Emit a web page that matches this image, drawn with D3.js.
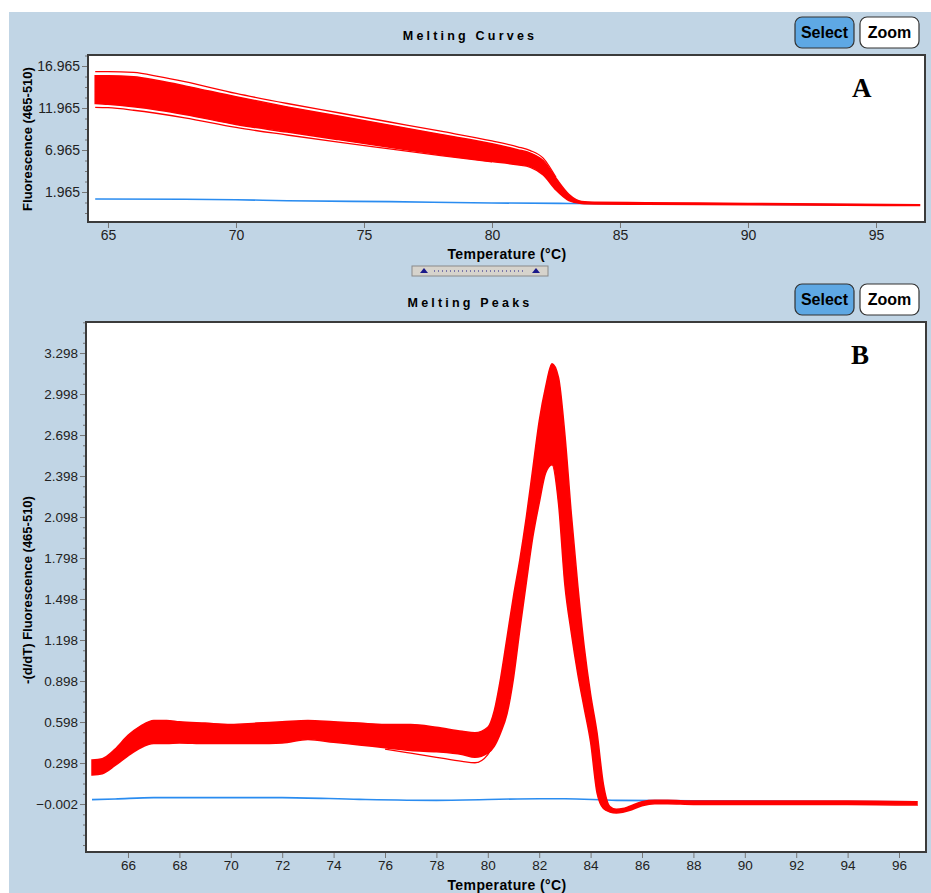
<!DOCTYPE html>
<html>
<head>
<meta charset="utf-8">
<script src="https://cdn.jsdelivr.net/npm/d3@7"></script>
<style>
  body { margin: 0; background: #fff; }
  svg { display: block; font-family: "Liberation Sans", Arial, sans-serif; }
</style>
</head>
<body>
<svg id="chart" width="931" height="893"></svg>
<script>
// Melting Curves (A)
// ------------------
var tempA  = [64.5, 65, 66, 67, 68, 70, 72, 74, 76, 78, 80, 81, 81.5, 82, 82.5, 83, 83.5, 84, 86, 90, 96.7];
var upperA = [15.8, 15.8, 15.7, 15.2, 14.6, 13.3, 12.1, 11.0, 9.9, 8.8, 7.7, 7.0, 6.6, 5.7, 3.6, 1.7, 0.85, 0.75, 0.7, 0.6, 0.45];
var lowerA = [12.5, 12.4, 12.1, 11.7, 11.2, 10.0, 9.1, 8.2, 7.3, 6.4, 5.6, 5.2, 4.9, 4.0, 2.2, 0.95, 0.6, 0.55, 0.5, 0.45, 0.35];
// outlying single curves, just outside the band
var outerTopTempA = [64.5, 65, 66, 67, 68, 70, 72, 74, 76, 78, 80, 81, 81.5, 82, 82.5];
var outerTopA     = [16.3, 16.3, 16.2, 15.7, 15.1, 13.7, 12.5, 11.4, 10.3, 9.2, 8.05, 7.35, 6.9, 6.0, 3.7];
var outerLowTempA = [64.5, 65, 66, 68, 70, 72, 74, 76, 78, 80];
var outerLowA     = [12.05, 12.0, 11.7, 10.8, 9.65, 8.75, 7.9, 7.1, 6.3, 5.55];
var blankTempA = [64.5, 68, 70, 72, 76, 80, 83, 90, 96.7];
var blankA     = [1.13, 1.1, 1.05, 0.92, 0.82, 0.66, 0.6, 0.5, 0.4];
var yTicksA = [1.965, 6.965, 11.965, 16.965];
var xTicksA = [65, 70, 75, 80, 85, 90, 95];

// Melting Peaks (B)
// -----------------
var tempB  = [64.6, 65, 65.5, 66, 66.5, 67, 67.5, 68, 69, 70, 71, 72, 73, 74, 75, 76, 77, 78, 79, 79.5,
              80, 80.25, 80.5, 80.75, 81, 81.25, 81.5, 81.75, 82, 82.25, 82.5, 82.75, 83, 83.25, 83.5, 83.75,
              84, 84.25, 84.5, 84.75, 85, 85.25, 85.5, 86, 86.5, 87, 88, 90, 92, 94, 96.7];
var upperB = [0.32, 0.33, 0.40, 0.50, 0.57, 0.61, 0.61, 0.60, 0.59, 0.58, 0.59, 0.60, 0.61, 0.60, 0.59, 0.58, 0.58, 0.56, 0.53, 0.52,
              0.56, 0.68, 0.92, 1.22, 1.52, 1.79, 2.1, 2.45, 2.8, 3.05, 3.22, 3.12, 2.7, 2.12, 1.6, 1.15,
              0.8, 0.52, 0.14, -0.02, -0.04, -0.035, -0.02, 0.015, 0.025, 0.025, 0.02, 0.02, 0.02, 0.02, 0.015];
var lowerB = [0.21, 0.22, 0.28, 0.35, 0.41, 0.44, 0.44, 0.445, 0.44, 0.44, 0.44, 0.445, 0.47, 0.45, 0.43, 0.41, 0.39, 0.38, 0.36, 0.34,
              0.37, 0.42, 0.52, 0.66, 0.92, 1.28, 1.62, 1.95, 2.2, 2.42, 2.48, 2.2, 1.6, 1.25, 0.95, 0.7,
              0.45, 0.08, -0.035, -0.06, -0.068, -0.062, -0.05, -0.015, 0.0, 0.0, -0.005, -0.005, -0.005, -0.005, -0.01];
var outerLowTempB = [76, 77, 78, 79, 79.5, 80, 80.5];
var outerLowB     = [0.40, 0.37, 0.34, 0.31, 0.30, 0.36, 0.55];
var blankTempB = [64.6, 65.5, 67, 70, 72, 75, 78, 82, 83, 85, 88, 96.7];
var blankB     = [0.03, 0.035, 0.045, 0.045, 0.045, 0.032, 0.025, 0.037, 0.037, 0.025, 0.022, 0.015];
var yTicksB = [-0.002, 0.298, 0.598, 0.898, 1.198, 1.498, 1.798, 2.098, 2.398, 2.698, 2.998, 3.298];
var xTicksB = [66, 68, 70, 72, 74, 76, 78, 80, 82, 84, 86, 88, 90, 92, 94, 96];

var RED = "#ff0000", BLUE = "#2a8cf0", PANEL = "#c1d5e5";

var svg = d3.select("#chart");
svg.append("rect").attr("x", 9).attr("y", 12).attr("width", 922).attr("height", 881).attr("fill", PANEL);

function zip(ts, vs) { return ts.map((t, i) => [t, vs[i]]); }

function panel(o) {
  var x = d3.scaleLinear().domain(o.xDomain).range([o.left, o.right]);
  var y = d3.scaleLinear().domain(o.yDomain).range([o.bottom, o.top]);
  var g = svg.append("g");

  g.append("rect")
    .attr("x", o.left).attr("y", o.top)
    .attr("width", o.right - o.left).attr("height", o.bottom - o.top)
    .attr("fill", "#fff");

  g.append("clipPath").attr("id", o.id + "-clip")
    .append("rect")
    .attr("x", o.left).attr("y", o.top)
    .attr("width", o.right - o.left).attr("height", o.bottom - o.top);

  var plot = g.append("g").attr("clip-path", "url(#" + o.id + "-clip)");
  var line = d3.line().x(d => x(d[0])).y(d => y(d[1])).curve(d3.curveMonotoneX);
  var area = d3.area().x(d => x(d.t)).y0(d => y(d.lo)).y1(d => y(d.hi)).curve(d3.curveMonotoneX);

  // negative control
  plot.append("path").datum(zip(o.blankT, o.blank))
    .attr("d", line).attr("fill", "none").attr("stroke", BLUE).attr("stroke-width", 1.6);

  // sample band
  plot.append("path")
    .datum(o.bandT.map((t, i) => ({t: t, hi: o.upper[i], lo: o.lower[i]})))
    .attr("d", area).attr("fill", RED).attr("stroke", RED).attr("stroke-width", 1.5);

  o.outliers.forEach(c => {
    plot.append("path").datum(zip(c[0], c[1]))
      .attr("d", line).attr("fill", "none").attr("stroke", RED).attr("stroke-width", 1.3);
  });

  // y axis
  g.append("g").attr("transform", "translate(" + o.left + ",0)")
    .call(d3.axisLeft(y).tickValues(o.yTicks).tickSize(6).tickPadding(2).tickFormat(d3.format(".3f")));
  var step = o.yTicks[1] - o.yTicks[0], minor = [];
  for (var v = o.yTicks[0] - step; v < o.yDomain[1]; v += step / 4)
    if (v > o.yDomain[0] && !o.yTicks.some(t => Math.abs(t - v) < 1e-6)) minor.push(v);
  g.append("g").attr("transform", "translate(" + o.left + ",0)")
    .call(d3.axisLeft(y).tickValues(minor).tickSize(3).tickFormat(""));

  g.append("g").attr("transform", "translate(0," + o.bottom + ")")
    .call(d3.axisBottom(x).tickValues(o.xTicks).tickSize(6).tickPadding(2).tickFormat(d3.format("d")));

  g.selectAll(".domain").remove();
  g.selectAll(".tick line").attr("stroke", "#777");
  g.selectAll(".tick text").attr("fill", "#222").attr("font-size", o.tickSize)
    .attr("font-family", "'Liberation Sans', Arial, sans-serif");

  g.append("rect")
    .attr("x", o.left).attr("y", o.top)
    .attr("width", o.right - o.left).attr("height", o.bottom - o.top)
    .attr("fill", "none").attr("stroke", "#3b3b3b").attr("stroke-width", 2);

  // titles and labels
  g.append("text").attr("x", 470).attr("y", o.top - 15).attr("text-anchor", "middle")
    .attr("font-size", 12.5).attr("font-weight", "bold").attr("letter-spacing", 3.2)
    .text(o.title);
  g.append("text").attr("x", 507).attr("y", o.xLabelY).attr("text-anchor", "middle")
    .attr("font-size", 14).attr("font-weight", "bold").attr("letter-spacing", 0.4)
    .text("Temperature (°C)");
  g.append("text")
    .attr("transform", "translate(32," + o.yLabelMid + ") rotate(-90)")
    .attr("text-anchor", "middle").attr("font-size", 13).attr("font-weight", "bold")
    .text(o.yLabel);
  g.append("text").attr("x", o.letterX).attr("y", o.letterY)
    .attr("font-family", "'Liberation Serif', 'Times New Roman', serif")
    .attr("font-size", 27).attr("font-weight", "bold").text(o.letter);

  // Select / Zoom buttons
  var by = o.top - 38;
  g.append("rect").attr("x", 795).attr("y", by).attr("width", 59).attr("height", 31).attr("rx", 7)
    .attr("fill", "#5ea8e4").attr("stroke", "#333").attr("stroke-width", 1.2);
  g.append("text").attr("x", 824.5).attr("y", by + 21).attr("text-anchor", "middle")
    .attr("font-size", 16).attr("font-weight", "bold").text("Select");
  g.append("rect").attr("x", 860).attr("y", by).attr("width", 59).attr("height", 31).attr("rx", 7)
    .attr("fill", "#fff").attr("stroke", "#333").attr("stroke-width", 1.2);
  g.append("text").attr("x", 889.5).attr("y", by + 21).attr("text-anchor", "middle")
    .attr("font-size", 16).attr("font-weight", "bold").text("Zoom");
}

panel({
  id: "curves", title: "Melting Curves", letter: "A", letterX: 852, letterY: 97,
  left: 88, right: 925, top: 55, bottom: 222,
  xDomain: [64.219, 96.914], yDomain: [-1.606, 18.275],
  bandT: tempA, upper: upperA, lower: lowerA,
  outliers: [[outerTopTempA, outerTopA], [outerLowTempA, outerLowA]],
  blankT: blankTempA, blank: blankA,
  yTicks: yTicksA, xTicks: xTicksA, tickSize: 14,
  xLabelY: 259, yLabel: "Fluorescence (465-510)", yLabelMid: 139
});

panel({
  id: "peaks", title: "Melting Peaks", letter: "B", letterX: 851, letterY: 364,
  left: 86, right: 926, top: 322, bottom: 852,
  xDomain: [64.366, 97.05], yDomain: [-0.353, 3.525],
  bandT: tempB, upper: upperB, lower: lowerB,
  outliers: [[outerLowTempB, outerLowB]],
  blankT: blankTempB, blank: blankB,
  yTicks: yTicksB, xTicks: xTicksB, tickSize: 13.5,
  xLabelY: 890, yLabel: "-(d/dT) Fluorescence (465-510)", yLabelMid: 590
});

// range slider between the panels
var sl = svg.append("g").attr("transform", "translate(412,266)");
sl.append("rect").attr("width", 136).attr("height", 10)
  .attr("fill", "#d6d3cc").attr("stroke", "#8a8a8a");
sl.append("line").attr("x1", 22).attr("x2", 114).attr("y1", 5).attr("y2", 5)
  .attr("stroke", "#1a1a8a").attr("stroke-dasharray", "1,3");
[12, 124].forEach(cx => {
  sl.append("path").attr("d", "M" + (cx - 4) + ",7L" + (cx + 4) + ",7L" + cx + ",2Z").attr("fill", "#1a1a8a");
});
</script>
</body>
</html>
